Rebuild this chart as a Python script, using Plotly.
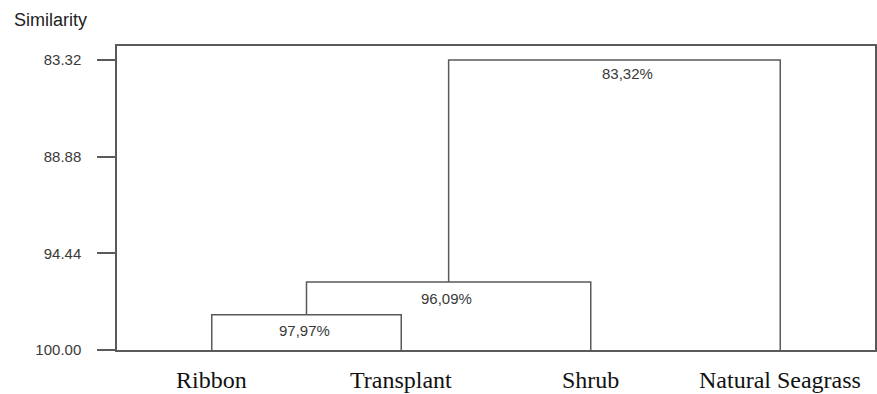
import plotly.graph_objects as go

# Data
leaves = ["Ribbon", "Transplant", "Shrub", "Natural Seagrass"]
merge_heights = [97.97, 96.09, 83.32]          # similarity at each merge
merge_labels = ["97,97%", "96,09%", "83,32%"]
tick_vals = [83.32, 88.88, 94.44, 100.00]
tick_text = ["83.32", "88.88", "94.44", "100.00"]
base = 100.0

LINE = "#5a5a5a"
TXT = "#3a3a3a"

pos = {name: i + 1 for i, name in enumerate(leaves)}
fig = go.Figure()

def seg(xs, ys):
    fig.add_trace(go.Scatter(x=xs, y=ys, mode="lines",
                             line=dict(color=LINE, width=1.5),
                             hoverinfo="skip", showlegend=False))

# merge 1: Ribbon + Transplant
x1a, x1b = pos["Ribbon"], pos["Transplant"]
seg([x1a, x1a, x1b, x1b], [base, merge_heights[0], merge_heights[0], base])
m1 = (x1a + x1b) / 2
# merge 2: (Ribbon,Transplant) + Shrub
x2 = pos["Shrub"]
seg([m1, m1, x2, x2], [merge_heights[0], merge_heights[1], merge_heights[1], base])
m2 = (m1 + x2) / 2
# merge 3: previous + Natural Seagrass
x3 = pos["Natural Seagrass"]
seg([m2, m2, x3, x3], [merge_heights[1], merge_heights[2], merge_heights[2], base])
m3 = (m2 + x3) / 2

mids = [m1, m2, m3]
xshifts = [-2, -2, 13]
yshifts = [-5, -6, -3]
annotations = []
for mx, h, lab, xs, ys in zip(mids, merge_heights, merge_labels, xshifts, yshifts):
    annotations.append(dict(x=mx, y=h, xref="x", yref="y", text=lab, showarrow=False,
                            xanchor="center", yanchor="top", xshift=xs, yshift=ys,
                            font=dict(family="Arial, Liberation Sans", size=15, color=TXT)))
for name in leaves:
    annotations.append(dict(x=pos[name], y=0, xref="x", yref="paper", text=name,
                            showarrow=False, xanchor="center", yanchor="middle", yshift=-30,
                            font=dict(family="Times New Roman, Liberation Serif", size=24,
                                      color="#111111")))
annotations.append(dict(x=-0.138, y=1.0855, xref="paper", yref="paper", text="Similarity",
                        showarrow=False, xanchor="left", yanchor="middle",
                        font=dict(family="Arial, Liberation Sans", size=18, color="#222222")))

fig.update_layout(
    width=877, height=394,
    margin=dict(l=117, r=0, t=46, b=44),
    paper_bgcolor="white", plot_bgcolor="white",
    annotations=annotations,
    xaxis=dict(range=[0.5, 4.5], showgrid=False, zeroline=False, showticklabels=False,
               ticks="", showline=True, mirror=True, linecolor=LINE, linewidth=1.5),
    yaxis=dict(range=[100, 82.515], showgrid=False, zeroline=False,
               tickvals=tick_vals, ticktext=tick_text, ticks="outside", ticklen=18,
               tickcolor=LINE, tickwidth=1.5, ticklabelstandoff=13,
               tickfont=dict(family="Arial, Liberation Sans", size=15, color=TXT),
               showline=True, mirror=True, linecolor=LINE, linewidth=1.5),
)

# remove the page's default body margin so the figure fills the window exactly
fig.write_html("out.html",
               config={"displayModeBar": False},
               post_script="document.body.style.margin='0';document.body.style.overflow='hidden';")
